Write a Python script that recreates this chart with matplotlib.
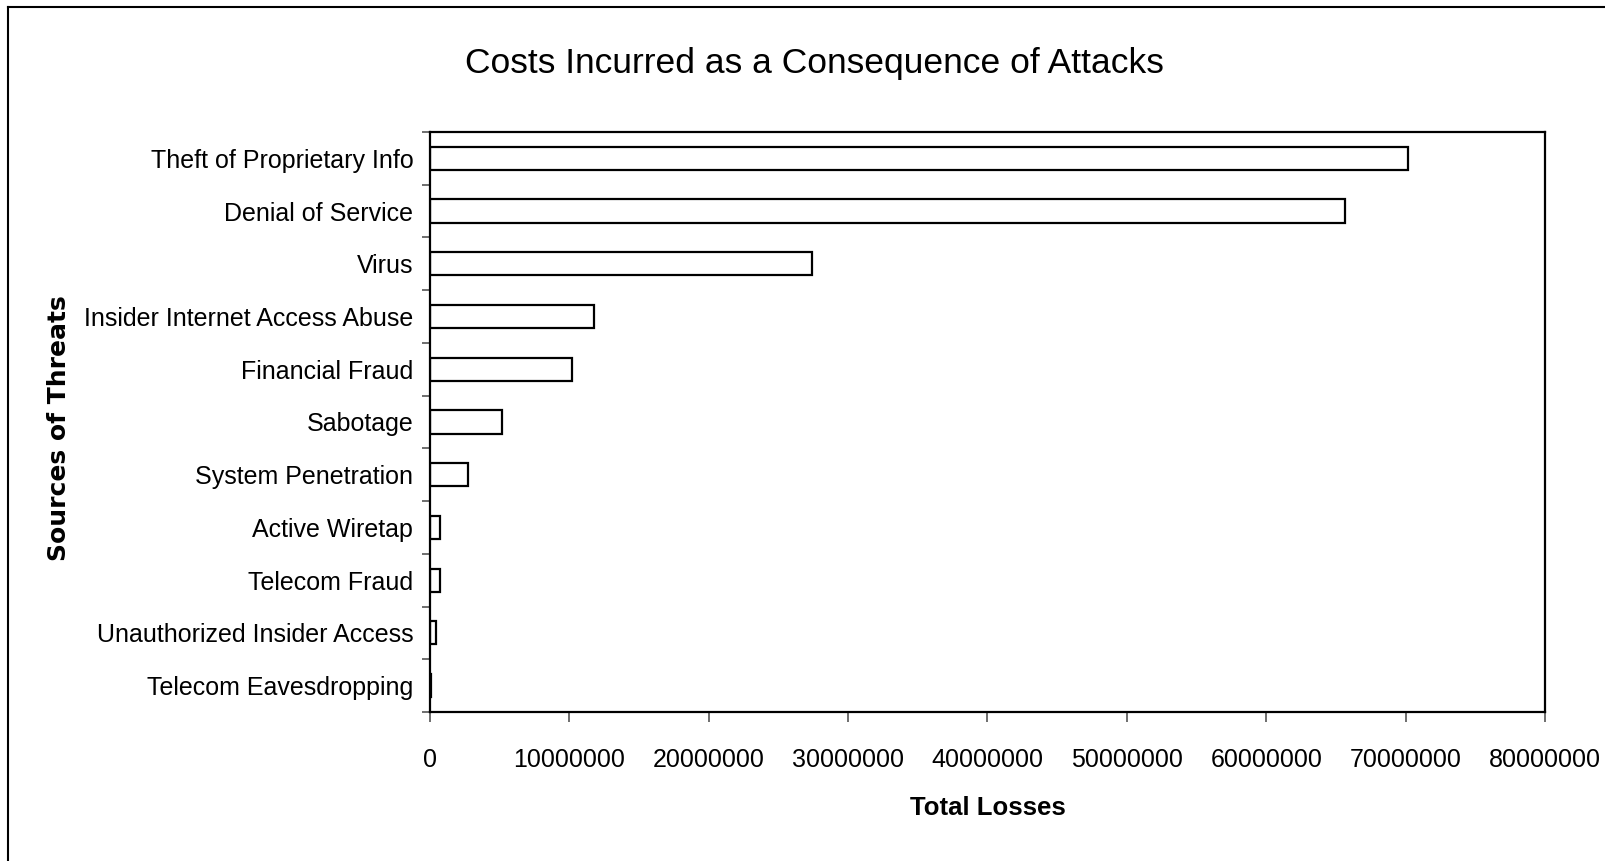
import numpy as np
import matplotlib.pyplot as plt
from matplotlib.lines import Line2D

threats = ['Theft of Proprietary Info', 'Denial of Service', 'Virus',
           'Insider Internet Access Abuse', 'Financial Fraud', 'Sabotage',
           'System Penetration', 'Active Wiretap', 'Telecom Fraud',
           'Unauthorized Insider Access', 'Telecom Eavesdropping']
losses = [70195900, 65643300, 27382340, 11767200, 10186400, 5148500,
          2754400, 705000, 701500, 406300, 76500]
xticks = np.arange(0, 80000001, 10000000)

plt.rcParams['font.family'] = ['Liberation Sans', 'DejaVu Sans']

fig = plt.figure(figsize=(16.06, 8.61), dpi=100)
ax = fig.add_axes([0.2677, 0.1731, 0.962 - 0.2677, 0.8467 - 0.1731])

y = np.arange(len(threats))
ax.barh(y, losses, height=0.44, color='white', edgecolor='black', linewidth=1.6)

ax.set_ylim(len(threats) - 0.5, -0.5)
ax.set_xlim(0, 80000000)
ax.set_xticks(xticks)
ax.set_xticklabels([str(v) for v in xticks], fontsize=18)
ax.set_yticks(y)
ax.set_yticklabels(threats, fontsize=18)
ax.set_yticks(np.arange(-0.5, len(threats), 1), minor=True)
ax.tick_params(axis='y', which='major', length=0, pad=12)
ax.tick_params(axis='y', which='minor', length=6, width=1.2, color='#555555', direction='out')
ax.tick_params(axis='x', which='major', length=7, width=1.2, color='#555555', direction='out', pad=19)
for s in ax.spines.values():
    s.set_linewidth(1.6)

ax.set_xlabel('Total Losses', fontsize=18.5, fontweight='bold', labelpad=17)
ax.set_ylabel('Sources of Threats', fontsize=18, fontweight='bold', family=['DejaVu Sans'])
ax.yaxis.set_label_coords(-0.322, 0.49)
fig.text(0.507, 0.926, 'Costs Incurred as a Consequence of Attacks', fontsize=25.5, ha='center', va='center')

# outer border (only top and left visible)
fig.add_artist(Line2D([8 / 1606, 8 / 1606], [0, 1 - 7 / 861], transform=fig.transFigure, color='black', lw=1.5))
fig.add_artist(Line2D([8 / 1606, 1], [1 - 7 / 861, 1 - 7 / 861], transform=fig.transFigure, color='black', lw=1.5))

fig.savefig('out.png', dpi=100)
